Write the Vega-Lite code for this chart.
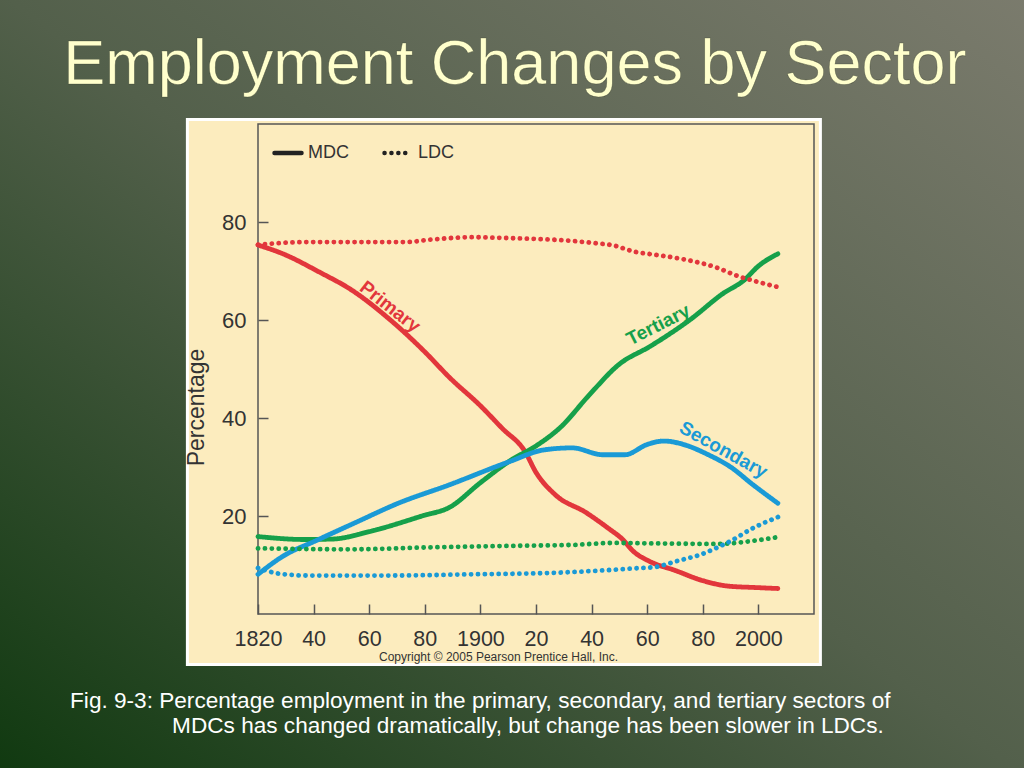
{
  "$schema": "https://vega.github.io/schema/vega-lite/v6.json",
  "width": 556,
  "height": 490,
  "autosize": {"type": "none"},
  "padding": {"left": 258, "top": 124, "right": 210, "bottom": 154},
  "background": "#47573f",
  "config": {"view": {"stroke": null}, "font": "Liberation Sans"},
  "layer": [
    {
      "data": {"values": [{}]},
      "mark": {
        "type": "rect",
        "clip": false,
        "fill": {
          "gradient": "linear",
          "x1": 0, "y1": 1, "x2": 1, "y2": 0,
          "stops": [
            {"offset": 0, "color": "#0e380e"},
            {"offset": 0.5, "color": "#53604b"},
            {"offset": 1, "color": "#7c7c6e"}
          ]
        }
      },
      "encoding": {
        "x": {"datum": 1720, "type": "quantitative"},
        "x2": {"datum": 2100},
        "y": {"datum": 130, "type": "quantitative"},
        "y2": {"datum": -35}
      }
    },
    {
      "data": {"values": [{}]},
      "mark": {"type": "text", "text": "Employment Changes by Sector", "font": "Liberation Sans", "fontSize": 63, "fill": "#FFFFCC", "stroke": "#2a3020", "strokeWidth": 0.6, "strokeOpacity": 0.5, "align": "center", "baseline": "alphabetic"},
      "encoding": {"x": {"datum": 1912.4, "type": "quantitative"}, "y": {"datum": 108.2, "type": "quantitative"}}
    },
    {
      "data": {"values": [{}]},
      "mark": {"type": "rect", "clip": false, "fill": "#FCECBE", "stroke": "#FFFFFF", "strokeWidth": 3},
      "encoding": {
        "x": {"datum": 1794.6, "type": "quantitative"},
        "x2": {"datum": 2022.3},
        "y": {"datum": 100.9, "type": "quantitative"},
        "y2": {"datum": -10.3}
      }
    },
    {
      "data": {"values": [{}]},
      "mark": {"type": "rect", "filled": false, "stroke": "#555555", "strokeWidth": 1.5},
      "encoding": {
        "x": {"datum": 1820, "type": "quantitative"},
        "x2": {"datum": 2020},
        "y": {"datum": 0, "type": "quantitative"},
        "y2": {"datum": 100}
      }
    },
    {
      "data": {
        "values": [
          {"year": 1820, "pct": 75.3, "sector": "Primary", "type": "MDC"},
          {"year": 1829, "pct": 73.5, "sector": "Primary", "type": "MDC"},
          {"year": 1842, "pct": 69.8, "sector": "Primary", "type": "MDC"},
          {"year": 1854, "pct": 66.0, "sector": "Primary", "type": "MDC"},
          {"year": 1867, "pct": 60.3, "sector": "Primary", "type": "MDC"},
          {"year": 1880, "pct": 53.5, "sector": "Primary", "type": "MDC"},
          {"year": 1889, "pct": 48.2, "sector": "Primary", "type": "MDC"},
          {"year": 1900, "pct": 42.5, "sector": "Primary", "type": "MDC"},
          {"year": 1908, "pct": 37.8, "sector": "Primary", "type": "MDC"},
          {"year": 1916, "pct": 33.2, "sector": "Primary", "type": "MDC"},
          {"year": 1920, "pct": 28.9, "sector": "Primary", "type": "MDC"},
          {"year": 1927, "pct": 24.3, "sector": "Primary", "type": "MDC"},
          {"year": 1938, "pct": 20.7, "sector": "Primary", "type": "MDC"},
          {"year": 1946, "pct": 17.5, "sector": "Primary", "type": "MDC"},
          {"year": 1951, "pct": 15.3, "sector": "Primary", "type": "MDC"},
          {"year": 1955, "pct": 12.8, "sector": "Primary", "type": "MDC"},
          {"year": 1961, "pct": 10.7, "sector": "Primary", "type": "MDC"},
          {"year": 1970, "pct": 8.9, "sector": "Primary", "type": "MDC"},
          {"year": 1980, "pct": 6.8, "sector": "Primary", "type": "MDC"},
          {"year": 1989, "pct": 5.7, "sector": "Primary", "type": "MDC"},
          {"year": 1999, "pct": 5.4, "sector": "Primary", "type": "MDC"},
          {"year": 2007, "pct": 5.2, "sector": "Primary", "type": "MDC"},

          {"year": 1820, "pct": 15.8, "sector": "Tertiary", "type": "MDC"},
          {"year": 1837, "pct": 15.2, "sector": "Tertiary", "type": "MDC"},
          {"year": 1847, "pct": 15.3, "sector": "Tertiary", "type": "MDC"},
          {"year": 1860, "pct": 16.8, "sector": "Tertiary", "type": "MDC"},
          {"year": 1879, "pct": 20.0, "sector": "Tertiary", "type": "MDC"},
          {"year": 1889, "pct": 21.8, "sector": "Tertiary", "type": "MDC"},
          {"year": 1900, "pct": 26.8, "sector": "Tertiary", "type": "MDC"},
          {"year": 1911, "pct": 31.4, "sector": "Tertiary", "type": "MDC"},
          {"year": 1920, "pct": 34.3, "sector": "Tertiary", "type": "MDC"},
          {"year": 1929, "pct": 38.2, "sector": "Tertiary", "type": "MDC"},
          {"year": 1939, "pct": 44.6, "sector": "Tertiary", "type": "MDC"},
          {"year": 1950, "pct": 51.0, "sector": "Tertiary", "type": "MDC"},
          {"year": 1961, "pct": 54.6, "sector": "Tertiary", "type": "MDC"},
          {"year": 1976, "pct": 60.3, "sector": "Tertiary", "type": "MDC"},
          {"year": 1987, "pct": 65.3, "sector": "Tertiary", "type": "MDC"},
          {"year": 1995, "pct": 68.2, "sector": "Tertiary", "type": "MDC"},
          {"year": 2000, "pct": 71.0, "sector": "Tertiary", "type": "MDC"},
          {"year": 2007, "pct": 73.5, "sector": "Tertiary", "type": "MDC"},

          {"year": 1820, "pct": 8.1, "sector": "Secondary", "type": "MDC"},
          {"year": 1829, "pct": 11.8, "sector": "Secondary", "type": "MDC"},
          {"year": 1841, "pct": 15.0, "sector": "Secondary", "type": "MDC"},
          {"year": 1856, "pct": 18.9, "sector": "Secondary", "type": "MDC"},
          {"year": 1870, "pct": 22.5, "sector": "Secondary", "type": "MDC"},
          {"year": 1889, "pct": 26.4, "sector": "Secondary", "type": "MDC"},
          {"year": 1910, "pct": 31.0, "sector": "Secondary", "type": "MDC"},
          {"year": 1923, "pct": 33.5, "sector": "Secondary", "type": "MDC"},
          {"year": 1933, "pct": 33.9, "sector": "Secondary", "type": "MDC"},
          {"year": 1944, "pct": 32.5, "sector": "Secondary", "type": "MDC"},
          {"year": 1952, "pct": 32.5, "sector": "Secondary", "type": "MDC"},
          {"year": 1960, "pct": 34.6, "sector": "Secondary", "type": "MDC"},
          {"year": 1966, "pct": 35.3, "sector": "Secondary", "type": "MDC"},
          {"year": 1973, "pct": 34.6, "sector": "Secondary", "type": "MDC"},
          {"year": 1982, "pct": 32.5, "sector": "Secondary", "type": "MDC"},
          {"year": 1990, "pct": 30.0, "sector": "Secondary", "type": "MDC"},
          {"year": 1998, "pct": 26.4, "sector": "Secondary", "type": "MDC"},
          {"year": 2007, "pct": 22.6, "sector": "Secondary", "type": "MDC"},

          {"year": 1820, "pct": 75.4, "sector": "Primary", "type": "LDC"},
          {"year": 1838, "pct": 75.9, "sector": "Primary", "type": "LDC"},
          {"year": 1873, "pct": 75.9, "sector": "Primary", "type": "LDC"},
          {"year": 1882, "pct": 76.4, "sector": "Primary", "type": "LDC"},
          {"year": 1897, "pct": 76.9, "sector": "Primary", "type": "LDC"},
          {"year": 1911, "pct": 76.7, "sector": "Primary", "type": "LDC"},
          {"year": 1926, "pct": 76.4, "sector": "Primary", "type": "LDC"},
          {"year": 1941, "pct": 75.7, "sector": "Primary", "type": "LDC"},
          {"year": 1948, "pct": 75.2, "sector": "Primary", "type": "LDC"},
          {"year": 1955, "pct": 74.0, "sector": "Primary", "type": "LDC"},
          {"year": 1963, "pct": 73.3, "sector": "Primary", "type": "LDC"},
          {"year": 1973, "pct": 72.4, "sector": "Primary", "type": "LDC"},
          {"year": 1985, "pct": 70.7, "sector": "Primary", "type": "LDC"},
          {"year": 1993, "pct": 68.9, "sector": "Primary", "type": "LDC"},
          {"year": 2001, "pct": 67.6, "sector": "Primary", "type": "LDC"},
          {"year": 2008, "pct": 66.6, "sector": "Primary", "type": "LDC"},

          {"year": 1820, "pct": 13.4, "sector": "Tertiary", "type": "LDC"},
          {"year": 1853, "pct": 13.2, "sector": "Tertiary", "type": "LDC"},
          {"year": 1882, "pct": 13.6, "sector": "Tertiary", "type": "LDC"},
          {"year": 1911, "pct": 13.9, "sector": "Tertiary", "type": "LDC"},
          {"year": 1933, "pct": 14.1, "sector": "Tertiary", "type": "LDC"},
          {"year": 1948, "pct": 14.5, "sector": "Tertiary", "type": "LDC"},
          {"year": 1963, "pct": 14.4, "sector": "Tertiary", "type": "LDC"},
          {"year": 1985, "pct": 14.3, "sector": "Tertiary", "type": "LDC"},
          {"year": 1999, "pct": 15.0, "sector": "Tertiary", "type": "LDC"},
          {"year": 2008, "pct": 15.8, "sector": "Tertiary", "type": "LDC"},

          {"year": 1820, "pct": 9.4, "sector": "Secondary", "type": "LDC"},
          {"year": 1828, "pct": 8.2, "sector": "Secondary", "type": "LDC"},
          {"year": 1838, "pct": 7.85, "sector": "Secondary", "type": "LDC"},
          {"year": 1867, "pct": 7.85, "sector": "Secondary", "type": "LDC"},
          {"year": 1897, "pct": 8.1, "sector": "Secondary", "type": "LDC"},
          {"year": 1926, "pct": 8.4, "sector": "Secondary", "type": "LDC"},
          {"year": 1941, "pct": 8.8, "sector": "Secondary", "type": "LDC"},
          {"year": 1955, "pct": 9.3, "sector": "Secondary", "type": "LDC"},
          {"year": 1963, "pct": 9.6, "sector": "Secondary", "type": "LDC"},
          {"year": 1970, "pct": 10.7, "sector": "Secondary", "type": "LDC"},
          {"year": 1979, "pct": 12.1, "sector": "Secondary", "type": "LDC"},
          {"year": 1989, "pct": 14.6, "sector": "Secondary", "type": "LDC"},
          {"year": 1999, "pct": 17.8, "sector": "Secondary", "type": "LDC"},
          {"year": 2008, "pct": 20.0, "sector": "Secondary", "type": "LDC"}
        ]
      },
      "mark": {"type": "line", "strokeWidth": 4.8, "strokeCap": "round", "interpolate": "monotone", "clip": false},
      "encoding": {
        "x": {
          "field": "year",
          "type": "quantitative",
          "scale": {"domain": [1820, 2020], "nice": false, "zero": false},
          "axis": {
            "values": [1820, 1840, 1860, 1880, 1900, 1920, 1940, 1960, 1980, 2000],
            "format": "d",
            "labelExpr": "datum.value == 1820 || datum.value == 1900 || datum.value == 2000 ? datum.label : slice(datum.label, 2)",
            "domain": false,
            "grid": false,
            "ticks": true,
            "tickSize": -10,
            "tickColor": "#555555",
            "tickWidth": 1.5,
            "labelFont": "Liberation Sans",
            "labelFontSize": 21.5,
            "labelColor": "#333333",
            "labelPadding": 24,
            "labelFlush": false,
            "labelOverlap": false,
            "title": "Copyright © 2005 Pearson Prentice Hall, Inc.",
            "titleFont": "Liberation Sans",
            "titleFontSize": 12,
            "titleFontWeight": "normal",
            "titleColor": "#333333",
            "titleX": 240,
            "titleY": 46,
            "titleBaseline": "alphabetic",
            "zindex": 1
          }
        },
        "y": {
          "field": "pct",
          "type": "quantitative",
          "scale": {"domain": [0, 100], "nice": false},
          "axis": {
            "values": [20, 40, 60, 80],
            "domain": false,
            "grid": false,
            "ticks": true,
            "tickSize": -10,
            "tickColor": "#555555",
            "tickWidth": 1.5,
            "labelFont": "Liberation Sans",
            "labelFontSize": 22,
            "labelColor": "#333333",
            "labelPadding": 22,
            "labelFlush": false,
            "title": "Percentage",
            "titleFont": "Liberation Sans",
            "titleFontSize": 23,
            "titleFontWeight": "normal",
            "titleColor": "#333333",
            "titleX": -55,
            "titleY": 283,
            "titleAngle": -90,
            "titleBaseline": "alphabetic",
            "zindex": 1
          }
        },
        "color": {
          "field": "sector",
          "type": "nominal",
          "scale": {"domain": ["Primary", "Secondary", "Tertiary"], "range": ["#E2363C", "#1A9AD6", "#16A04A"]},
          "legend": null
        },
        "strokeDash": {
          "field": "type",
          "type": "nominal",
          "scale": {"domain": ["MDC", "LDC"], "range": [[1, 0], [0.1, 6.8]]},
          "legend": {
            "title": null,
            "orient": "none",
            "legendX": 14,
            "legendY": 13,
            "direction": "horizontal",
            "symbolType": "stroke",
            "symbolSize": 729,
            "symbolStrokeWidth": 4.5,
            "symbolStrokeColor": "#222222",
            "labelFont": "Liberation Sans",
            "labelFontSize": 18,
            "labelColor": "#333333",
            "labelOffset": 4,
            "columnPadding": 26,
            "padding": 0,
            "zindex": 1,
            "encode": {"symbols": {"update": {"strokeCap": {"value": "round"}}}}
          }
        }
      }
    },
    {
      "data": {"values": [{}]},
      "mark": {"type": "text", "text": "Primary", "angle": 38, "font": "Liberation Sans", "fontSize": 19, "fontWeight": "bold", "fill": "#E2363C", "align": "center", "baseline": "middle"},
      "encoding": {"x": {"datum": 1867.5, "type": "quantitative"}, "y": {"datum": 62.7, "type": "quantitative"}}
    },
    {
      "data": {"values": [{}]},
      "mark": {"type": "text", "text": "Tertiary", "angle": -27, "font": "Liberation Sans", "fontSize": 19, "fontWeight": "bold", "fill": "#16A04A", "align": "center", "baseline": "middle"},
      "encoding": {"x": {"datum": 1964.0, "type": "quantitative"}, "y": {"datum": 59.0, "type": "quantitative"}}
    },
    {
      "data": {"values": [{}]},
      "mark": {"type": "text", "text": "Secondary", "angle": 29, "font": "Liberation Sans", "fontSize": 19, "fontWeight": "bold", "fill": "#1A9AD6", "align": "center", "baseline": "middle"},
      "encoding": {"x": {"datum": 1987.4, "type": "quantitative"}, "y": {"datum": 33.5, "type": "quantitative"}}
    },
    {
      "data": {"values": [{}]},
      "mark": {"type": "text", "text": "Fig. 9-3: Percentage employment in the primary, secondary, and tertiary sectors of", "font": "Liberation Sans", "fontSize": 22.6, "fill": "#FFFFFF", "align": "left", "baseline": "alphabetic"},
      "encoding": {"x": {"datum": 1752.4, "type": "quantitative"}, "y": {"datum": -19.2, "type": "quantitative"}}
    },
    {
      "data": {"values": [{}]},
      "mark": {"type": "text", "text": "MDCs has changed dramatically, but change has been slower in LDCs.", "font": "Liberation Sans", "fontSize": 22.6, "fill": "#FFFFFF", "align": "left", "baseline": "alphabetic"},
      "encoding": {"x": {"datum": 1789.1, "type": "quantitative"}, "y": {"datum": -24.3, "type": "quantitative"}}
    }
  ]
}
